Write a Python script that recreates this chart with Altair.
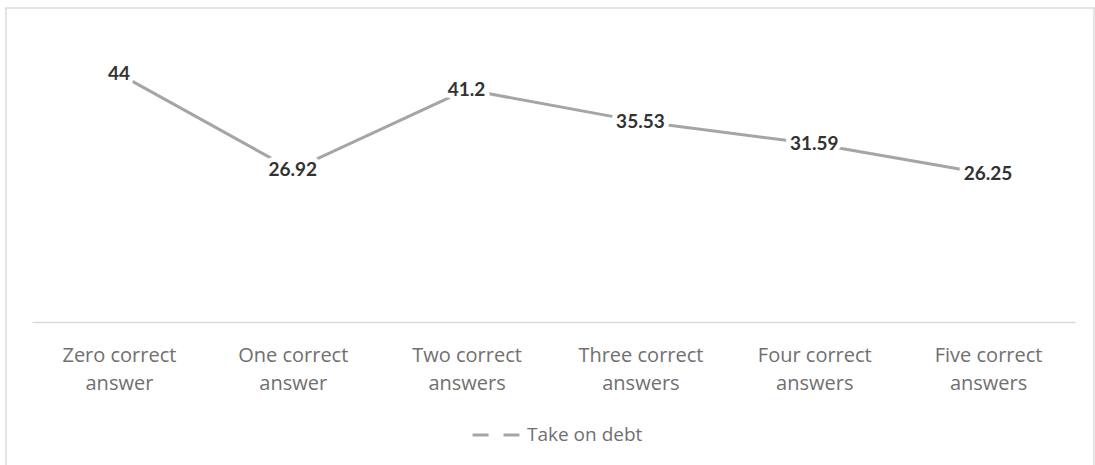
import altair as alt
import pandas as pd

categories = ["Zero correct answer", "One correct answer", "Two correct answers",
              "Three correct answers", "Four correct answers", "Five correct answers"]
values = [44, 26.92, 41.2, 35.53, 31.59, 26.25]
series = ["Take on debt"] * 6

df = pd.DataFrame({"category": categories, "value": values, "series": series})

W, H = 1043, 282

xenc = alt.X("category:N", sort=categories, title=None,
             scale=alt.Scale(paddingInner=0, paddingOuter=0.5),
             axis=alt.Axis(domainColor="#d9d9d9", domainWidth=1.5, ticks=False, labelAngle=0,
                           labelFont="Open Sans", labelFontSize=20, labelColor="#707070",
                           labelPadding=23, labelLineHeight=28, zindex=1,
                           labelExpr="[substring(datum.label, 0, indexof(datum.label, 'correct') + 7), substring(datum.label, indexof(datum.label, 'correct') + 8)]"))
yenc = alt.Y("value:Q", scale=alt.Scale(domain=[0, 50]), axis=None)

border = alt.Chart(pd.DataFrame({"a": [0]})).mark_rect(
    filled=False, stroke="#dcdcdc", strokeWidth=1.5, clip=False
).encode(x=alt.value(-26), x2=alt.value(1062), y=alt.value(-32), y2=alt.value(440))

line = alt.Chart(df).mark_line(strokeWidth=3).encode(
    x=xenc, y=yenc,
    color=alt.Color("series:N", scale=alt.Scale(range=["#a5a5a5"]),
                    legend=alt.Legend(title=None, orient="none", legendX=439, legendY=370,
                                      symbolType="stroke", symbolSize=2200, symbolStrokeWidth=3,
                                      symbolDash=[16, 15], labelFont="Open Sans",
                                      labelFontSize=19, labelColor="#707070", labelOffset=6))
)

halo = alt.Chart(df).mark_text(font="Lato", fontWeight="bold", fontSize=19,
                               stroke="white", strokeWidth=10, strokeJoin="round",
                               fill="white").encode(
    x=xenc, y=yenc, text=alt.Text("value:Q"))

labels = alt.Chart(df).mark_text(font="Lato", fontWeight="bold", fontSize=19,
                                 color="#333333").encode(
    x=xenc, y=yenc, text=alt.Text("value:Q"))

chart = alt.layer(border, line, halo, labels).properties(
    width=W, height=H,
    autosize=alt.AutoSizeParams(type="none"),
    padding={"left": 32, "top": 40, "right": 20, "bottom": 143},
).configure(background="white").configure_view(strokeWidth=0, stroke="transparent")

chart.save("out.html", embed_options={"renderer": "svg", "actions": False})
